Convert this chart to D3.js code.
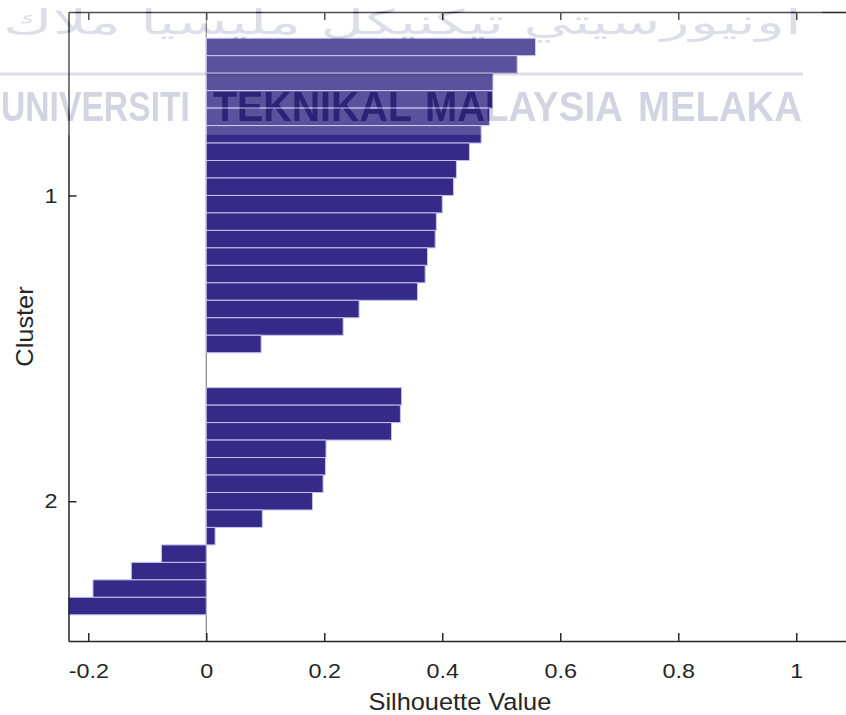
<!DOCTYPE html>
<html>
<head>
<meta charset="utf-8">
<script src="https://cdn.jsdelivr.net/npm/d3@7"></script>
<style>
  html, body { margin: 0; padding: 0; background: #ffffff; }
  svg { display: block; }
</style>
</head>
<body>
<svg id="chart" width="846" height="715"></svg>
<script>
// ---------------- data ----------------
const cluster1Values = [0.558, 0.527, 0.486, 0.485, 0.480, 0.466, 0.446, 0.424, 0.419,
                        0.400, 0.390, 0.388, 0.375, 0.371, 0.358, 0.259, 0.232, 0.093];
const cluster2Values = [0.331, 0.329, 0.314, 0.203, 0.202, 0.198, 0.180, 0.095, 0.015,
                        -0.076, -0.127, -0.192, -0.240];
const clusterNames = ["1", "2"];
const xTickValues = [-0.2, 0, 0.2, 0.4, 0.6, 0.8, 1];
const xTickLabels = ["-0.2", "0", "0.2", "0.4", "0.6", "0.8", "1"];
const xAxisTitle = "Silhouette Value";
const yAxisTitle = "Cluster";
const gapSlots = 2;
const watermarkWords = ["UNIVERSITI", "TEKNIKAL", "MALAYSIA", "MELAKA"];
const watermarkJawi = "اونيورسيتي تيكنيكل مليسيا ملاك";

// ---------------- layout ----------------
const svg = d3.select("#chart");
const plot = { left: 68.5, top: 12, bottom: 641 };
const xDomain = [-0.2335, 1.1];
const pxPerUnit = 590;
const x = d3.scaleLinear().domain(xDomain)
  .range([plot.left, plot.left + (xDomain[1] - xDomain[0]) * pxPerUnit]);

const groups = [cluster1Values, cluster2Values];
const rows = [];
const clusterCenters = [];
let slot = 1;
groups.forEach((vals, gi) => {
  const start = slot;
  vals.forEach(v => { rows.push({ slot: slot, value: v, cluster: gi }); slot++; });
  clusterCenters.push((start + slot - 1) / 2);
  slot += gapSlots;
});
const totalSlots = slot - gapSlots - 1;
const y = d3.scaleLinear().domain([-1, totalSlots + 2]).range([plot.top, plot.bottom]);

const ink = "#262626";
const fontFam = "'Liberation Sans', Arial, Helvetica, sans-serif";

function stretch(sel, k) {
  sel.each(function () {
    const ax = +(this.getAttribute("x") || 0);
    d3.select(this).attr("transform", `translate(${ax * (1 - k)},0) scale(${k},1)`);
  });
}
// scale a start-anchored text horizontally so it spans [x0, x1]
function fitSpan(sel, spans) {
  sel.each(function (d, i) {
    const t = d3.select(this).attr("x", 0).attr("text-anchor", "start");
    const w = this.getComputedTextLength();
    const [x0, x1] = spans[i];
    const k = (x1 - x0) / w;
    t.attr("transform", `translate(${x0},0) scale(${k},1)`);
  });
}

const defs = svg.append("defs");
// clip
defs.append("clipPath").attr("id", "plotClip")
  .append("rect")
  .attr("x", x.range()[0]).attr("y", plot.top)
  .attr("width", x.range()[1] - x.range()[0])
  .attr("height", plot.bottom - plot.top);

// baseline at 0
svg.append("line")
  .attr("x1", x(0)).attr("x2", x(0))
  .attr("y1", y.range()[0]).attr("y2", y.range()[1])
  .attr("stroke", "#6e6e6e").attr("stroke-width", 1);

// bars
svg.append("g").attr("clip-path", "url(#plotClip)")
  .selectAll("rect").data(rows).join("rect")
  .attr("x", d => x(Math.min(0, d.value)))
  .attr("width", d => Math.abs(x(d.value) - x(0)))
  .attr("y", d => y(d.slot - 0.5))
  .attr("height", d => y(d.slot + 0.5) - y(d.slot - 0.5))
  .attr("fill", "#352a87")
  .attr("stroke", "#c3c1ee")
  .attr("stroke-width", 1);

// axes
const axBottom = svg.append("g").attr("transform", `translate(0,${plot.bottom})`)
  .call(d3.axisBottom(x).tickValues(xTickValues)
    .tickFormat((d, i) => xTickLabels[i])
    .tickSizeInner(-8).tickSizeOuter(0).tickPadding(22));
const axTop = svg.append("g").attr("transform", `translate(0,${plot.top})`)
  .call(d3.axisTop(x).tickValues(xTickValues).tickFormat("")
    .tickSizeInner(-8).tickSizeOuter(0));
const axLeft = svg.append("g").attr("transform", `translate(${plot.left},0)`)
  .call(d3.axisLeft(y).tickValues(clusterCenters)
    .tickFormat((d, i) => clusterNames[i])
    .tickSizeInner(-8).tickSizeOuter(0).tickPadding(11));

[axBottom, axTop, axLeft].forEach(a => {
  a.select(".domain").attr("stroke", ink).attr("stroke-width", 1.5);
  a.selectAll(".tick line").attr("stroke", ink).attr("stroke-width", 1.5);
  a.selectAll(".tick text").attr("fill", ink)
    .attr("font-family", fontFam).attr("font-size", 20.5);
});
stretch(axBottom.selectAll(".tick text"), 1.14);
stretch(axLeft.selectAll(".tick text"), 1.14);

// axis titles
svg.append("text")
  .attr("x", (x.range()[0] + x.range()[1]) / 2 - 2).attr("y", 710)
  .attr("text-anchor", "middle").attr("fill", ink)
  .attr("font-family", fontFam).attr("font-size", 23.5)
  .text(xAxisTitle)
  .call(s => stretch(s, 1.08));

svg.append("text")
  .attr("transform", `translate(32.5,${(plot.top + plot.bottom) / 2}) rotate(-90) scale(1.08,1)`)
  .attr("text-anchor", "middle").attr("fill", ink)
  .attr("font-family", fontFam).attr("font-size", 23.5)
  .text(yAxisTitle);

// ---------------- watermark ----------------
const wordBoxes = [[1, 190], [213, 412], [425, 623], [638, 802]];

// lightening band (letters cut out through a mask that re-uses the letters)
const mask = defs.append("mask").attr("id", "wmMask")
  .attr("maskUnits", "userSpaceOnUse")
  .attr("x", 0).attr("y", 0).attr("width", 846).attr("height", 715);
mask.append("rect").attr("x", 0).attr("y", 0).attr("width", 846).attr("height", 715).attr("fill", "white");
mask.append("use").attr("href", "#wmLetters").attr("fill", "black");

svg.append("rect")
  .attr("x", 0).attr("y", 0).attr("width", 822).attr("height", 135)
  .attr("fill", "#ffffff").attr("opacity", 0.19)
  .attr("mask", "url(#wmMask)");

const wm = svg.append("g").style("mix-blend-mode", "multiply");
wm.append("rect").attr("x", 0).attr("y", 72.5).attr("width", 803).attr("height", 3)
  .attr("fill", "#dcdde6");
const latinColor = wm.append("g").attr("fill", "#d2d5e1");
const letters = latinColor.append("g").attr("id", "wmLetters");
letters.selectAll("text.w").data(watermarkWords).join("text")
  .attr("class", "w")
  .attr("y", 121.5)
  .attr("font-family", fontFam).attr("font-size", 42).attr("font-weight", "bold")
  .text(d => d)
  .call(s => fitSpan(s, wordBoxes));
letters.append("g").attr("opacity", 0.75)
  .append("text")
  .attr("y", 34)
  .attr("font-family", "'DejaVu Sans', sans-serif").attr("font-size", 34)
  .text(watermarkJawi)
  .call(s => fitSpan(s, [[3, 802]]));
</script>
</body>
</html>
